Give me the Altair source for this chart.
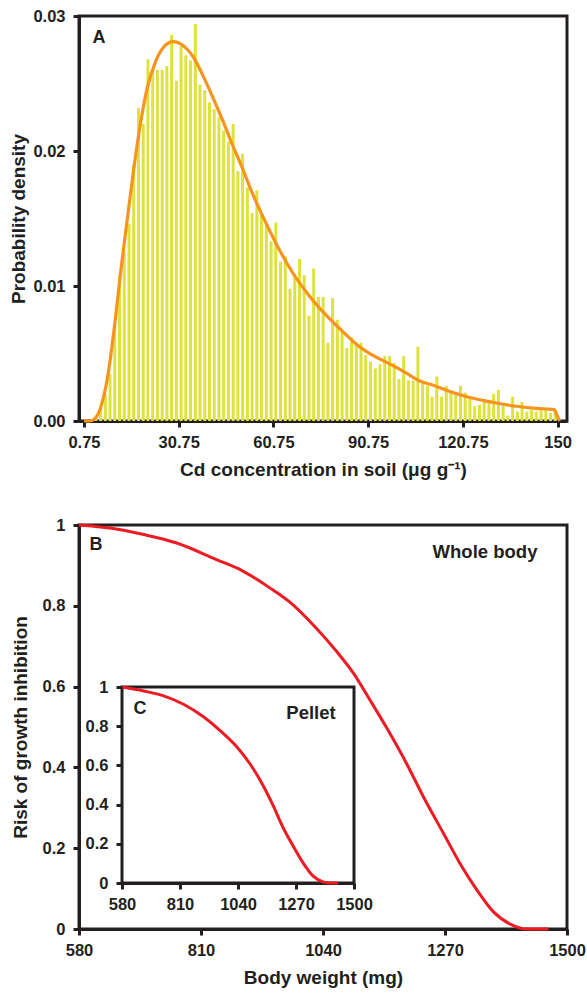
import altair as alt
import pandas as pd

# ---------------- Panel A data ----------------
cd_bin_centers = [round(1.5 + 1.5 * i, 2) for i in range(100)]
cd_density = [
    0.0, 0.0001, 0.0003, 0.0009, 0.0020, 0.0035, 0.0072, 0.0108, 0.0126, 0.0146,
    0.0190, 0.0232, 0.0220, 0.0268, 0.0260, 0.0260, 0.0260, 0.0263, 0.0286, 0.0252,
    0.0278, 0.0271, 0.0267, 0.0294, 0.0249, 0.0245, 0.0236, 0.0231, 0.0225, 0.0215,
    0.0207, 0.0220, 0.0185, 0.0198, 0.0173, 0.0154, 0.0171, 0.0154, 0.0146, 0.0133,
    0.0147, 0.0118, 0.0122, 0.0098, 0.0109, 0.0120, 0.0108, 0.0078, 0.0113, 0.0092,
    0.0092, 0.0058, 0.0091, 0.0075, 0.0067, 0.0054, 0.0062, 0.0058, 0.0058, 0.0049,
    0.0044, 0.0039, 0.0042, 0.0048, 0.0048, 0.0043, 0.0031, 0.0048, 0.0030, 0.0030,
    0.0055, 0.0028, 0.0026, 0.0018, 0.0033, 0.0018, 0.0026, 0.0022, 0.0020, 0.0026,
    0.0021, 0.0017, 0.0011, 0.0012, 0.0016, 0.0015, 0.0020, 0.0023, 0.0011, 0.0004,
    0.0018, 0.0007, 0.0014, 0.0007, 0.0008, 0.0007, 0.0008, 0.0008, 0.0006, 0.0008,
]
fit_cd = [0.75, 2.5, 4.3, 6.3, 8.4, 10.5, 12.5, 14.6, 16.7, 18.75, 20.8, 23.4, 26.0,
          29.0, 32.2, 35.3, 38.4, 41.5, 44.6, 47.7, 50.8, 53.5, 56.5, 61.7, 66.8,
          72.0, 77.2, 82.4, 87.5, 92.7, 97.9, 102.5, 106.8, 112.0, 117.1, 122.3,
          127.4, 132.6, 137.8, 143.0, 147.1, 149.7, 150.7, 151.4]
fit_density = [0.0, 0.0, 0.0002, 0.0012, 0.0035, 0.0072, 0.0113, 0.0152, 0.0190,
               0.0222, 0.0247, 0.0266, 0.0277, 0.0281, 0.0278, 0.0270, 0.0256, 0.0240,
               0.0223, 0.0205, 0.0188, 0.0172, 0.0156, 0.0131, 0.0110, 0.0093, 0.0079,
               0.0067, 0.0056, 0.0048, 0.0042, 0.0036, 0.0030, 0.0026, 0.00215,
               0.00178, 0.00151, 0.00128, 0.00109, 0.00096, 0.00089, 0.00084,
               0.00035, 0.0]
a_x_ticks = [0.75, 30.75, 60.75, 90.75, 120.75, 150.75]
a_y_ticks = [0, 0.01, 0.02, 0.03]

# ---------------- Panel B / C data ----------------
wb_weight = [580, 655.6, 700, 762.8, 838, 889, 939, 983, 1027, 1065, 1097, 1128,
             1160, 1197, 1229, 1267, 1298, 1330, 1361, 1393, 1424, 1465]
wb_risk = [1.0, 0.989, 0.977, 0.956, 0.915, 0.886, 0.845, 0.803, 0.745, 0.688, 0.634,
           0.568, 0.498, 0.411, 0.328, 0.237, 0.163, 0.097, 0.043, 0.012, 0.0, 0.0]
pel_weight = [582, 666, 745, 824, 903, 969, 1035, 1088, 1140, 1180, 1219, 1259, 1298,
              1338, 1377, 1404, 1437]
pel_risk = [1.0, 0.980, 0.955, 0.912, 0.848, 0.778, 0.695, 0.607, 0.496, 0.393, 0.282,
            0.188, 0.103, 0.035, 0.006, 0.0, 0.0]
b_x_ticks = [580, 810, 1040, 1270, 1500]
b_y_ticks = [0, 0.2, 0.4, 0.6, 0.8, 1.0]
inset_x_domain = [580, 1500]
inset_y_domain = [0, 1]

TXT = "#231f20"
FONT = "Liberation Sans"
LBL = 16.5
TTL = 19

# ---------------- Panel A ----------------
hist_df = pd.DataFrame({"cd": cd_bin_centers, "density": cd_density})
fit_df = pd.DataFrame({"cd": fit_cd, "density": fit_density})

xA = alt.X("cd:Q",
           scale=alt.Scale(domain=[0.75, 152.15], nice=False, zero=False),
           axis=alt.Axis(values=a_x_ticks,
                         labelExpr="datum.value > 150 ? '150' : format(datum.value, '.2f')",
                         title="Cd concentration in soil (μg g⁻¹)",
                         titlePadding=10, labelPadding=7, labelOverlap=False))
yA = alt.Y("density:Q",
           scale=alt.Scale(domain=[0, 0.03], nice=False),
           axis=alt.Axis(values=a_y_ticks, format=".2f", title="Probability density",
                         titlePadding=4, labelPadding=8))

bars = alt.Chart(hist_df).mark_bar(color="#dee23c", size=3).encode(x=xA, y=yA)
fit = alt.Chart(fit_df).mark_line(color="#f7941d", strokeWidth=3.2,
                                  interpolate="monotone").encode(x="cd:Q", y="density:Q")
labA = alt.Chart(pd.DataFrame({"t": ["A"]})).mark_text(
    font=FONT, fontSize=18, fontWeight="bold", color=TXT, align="center",
    baseline="alphabetic").encode(x=alt.value(20), y=alt.value(27), text="t:N")

panelA = alt.layer(bars, fit, labA).properties(width=488, height=405)

# ---------------- Panel B ----------------
wb_df = pd.DataFrame({"w": wb_weight, "r": wb_risk})
pel_df = pd.DataFrame({"w": pel_weight, "r": pel_risk})
box_df = pd.DataFrame({"w": [inset_x_domain[0]], "w2": [inset_x_domain[1]],
                       "r": [inset_y_domain[0]], "r2": [inset_y_domain[1]]})

xB = alt.X("w:Q", scale=alt.Scale(domain=[580, 1500], nice=False, zero=False),
           axis=alt.Axis(values=b_x_ticks, format="d", title="Body weight (mg)",
                         titlePadding=10, labelPadding=7, labelOverlap=False))
yB = alt.Y("r:Q", scale=alt.Scale(domain=[0, 1], nice=False),
           axis=alt.Axis(values=b_y_ticks, format=".1~f",
                         title="Risk of growth inhibition", titlePadding=12,
                         labelPadding=8))
main_line = alt.Chart(wb_df).mark_line(color="#ed1c24", strokeWidth=3,
                                       interpolate="monotone").encode(x=xB, y=yB)

xC = alt.X("w:Q", scale=alt.Scale(domain=inset_x_domain, range=[43, 275], nice=False,
                                  zero=False),
           axis=alt.Axis(values=b_x_ticks, format="d", title=None, orient="bottom",
                         offset=-46, labelPadding=7, labelOverlap=False))
yC = alt.Y("r:Q", scale=alt.Scale(domain=inset_y_domain, range=[358, 162], nice=False),
           axis=alt.Axis(values=b_y_ticks, format=".1~f", title=None, orient="left",
                         offset=-43, labelPadding=8, labelOverlap=False))
box = alt.Chart(box_df).mark_rect(fill="white", stroke=TXT, strokeWidth=3).encode(
    x=xC, x2="w2:Q", y=yC, y2="r2:Q")
pel_line = alt.Chart(pel_df).mark_line(color="#ed1c24", strokeWidth=3,
                                       interpolate="monotone").encode(x=xC, y=yC)
inset = alt.layer(box, pel_line)

def label(txt, x, y, size):
    return alt.Chart(pd.DataFrame({"t": [txt]})).mark_text(
        font=FONT, fontSize=size, fontWeight="bold", color=TXT, align="center",
        baseline="alphabetic").encode(x=alt.value(x), y=alt.value(y), text="t:N")

panelB = alt.layer(
    main_line, inset,
    label("B", 17, 25, 18), label("Whole body", 406, 33, 18.5),
    label("C", 61, 189, 18), label("Pellet", 232, 194, 18.5),
).resolve_scale(x="independent", y="independent").properties(width=488, height=404)

chart = alt.vconcat(panelA, panelB, spacing=34).configure_view(
    stroke=TXT, strokeWidth=3
).configure_axis(
    domainColor=TXT, domainWidth=3, tickColor=TXT, tickWidth=3, tickSize=6,
    labelColor=TXT, labelFont=FONT, labelFontSize=LBL, labelFontWeight="bold",
    titleColor=TXT, titleFont=FONT, titleFontSize=TTL, titleFontWeight="bold",
    grid=False, labelFlush=False
).properties(padding={"left": 8, "top": 6, "right": 0, "bottom": 2},
             background="white")

chart.save("out.html", embed_options={"renderer": "svg", "actions": False})
